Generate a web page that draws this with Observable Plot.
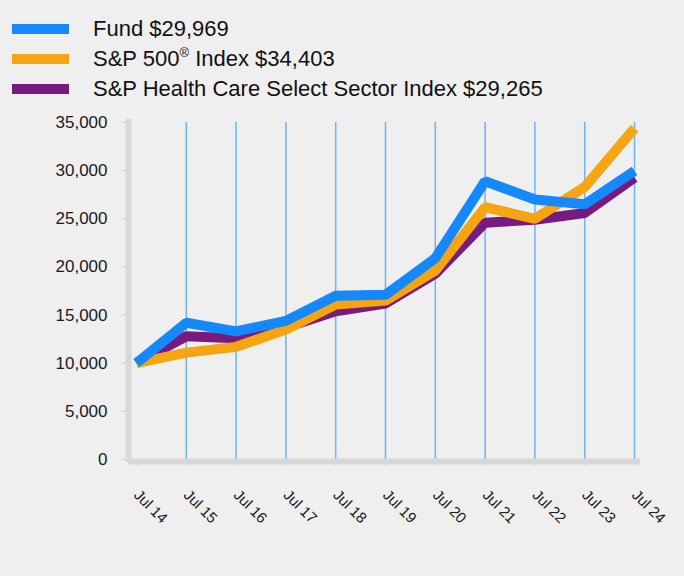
<!DOCTYPE html>
<html>
<head>
<meta charset="utf-8">
<script src="https://cdn.jsdelivr.net/npm/d3@7"></script>
<script src="https://cdn.jsdelivr.net/npm/@observablehq/plot@0.6"></script>
<style>
  html, body { margin: 0; padding: 0; background: #efefef; }
  body { width: 684px; height: 576px; overflow: hidden; font-family: "Liberation Sans", Arial, sans-serif; }
  #legend { height: 112px; box-sizing: border-box; padding-top: 14px; }
  .row { display: flex; align-items: center; height: 30px; }
  .sw { width: 57px; height: 10px; margin-left: 12px; margin-right: 24px; flex: none; }
  .lab { font-size: 22px; color: #111; white-space: nowrap; }
  sup { font-size: 13px; vertical-align: 9px; line-height: 0; }
  svg { display: block; }
</style>
</head>
<body>
<div id="legend"></div>
<div id="chart"></div>
<script>
const years = [2014, 2015, 2016, 2017, 2018, 2019, 2020, 2021, 2022, 2023, 2024];
const tickLabels = ["Jul 14", "Jul 15", "Jul 16", "Jul 17", "Jul 18", "Jul 19", "Jul 20", "Jul 21", "Jul 22", "Jul 23", "Jul 24"];
const fund = [10000, 14200, 13300, 14400, 17000, 17100, 20900, 28900, 27000, 26500, 29969];
const sp500 = [10000, 11100, 11700, 13500, 16100, 16500, 19600, 26200, 25000, 28300, 34403];
const healthCare = [10000, 12800, 12600, 13700, 15400, 16200, 19300, 24600, 24900, 25600, 29265];
const seriesNames = ["Fund $29,969", "S&P 500<sup>®</sup> Index $34,403", "S&P Health Care Select Sector Index $29,265"];
const seriesColors = ["#1589fb", "#f4a511", "#771b80"];
const yTicks = [0, 5000, 10000, 15000, 20000, 25000, 30000, 35000];

const legend = document.getElementById("legend");
seriesNames.forEach((n, i) => {
  const row = document.createElement("div");
  row.className = "row";
  row.innerHTML = `<span class="sw" style="background:${seriesColors[i]}"></span><span class="lab">${n}</span>`;
  legend.appendChild(row);
});

const rows = (vals, key) => years.map((y, i) => ({year: y, value: vals[i], key}));
const data = [...rows(healthCare, "hc"), ...rows(sp500, "sp"), ...rows(fund, "fund")];
const xDomain = [2013.84, 2024.12];

const chart = Plot.plot({
  width: 684,
  height: 464,
  marginTop: 10,
  marginBottom: 117,
  marginLeft: 128,
  marginRight: 44,
  style: {background: "#efefef", fontFamily: "Liberation Sans, Arial, sans-serif", color: "#222"},
  x: {type: "linear", domain: xDomain},
  y: {domain: [0, 35000]},
  marks: [
    Plot.ruleX(years.slice(1), {x: d => d, y1: 0, y2: 35000, stroke: "#6fb2f7", strokeWidth: 1.5}),
    Plot.axisY({ticks: yTicks, tickFormat: d => d3.format(",")(d), tickSize: 7, tickPadding: 14, stroke: "#cfcfcf", fontSize: 17, label: null, fill: "#1a1a1a"}),
    Plot.axisX({ticks: years, tickFormat: d => tickLabels[years.indexOf(d)], tickSize: 7, tickPadding: 26, tickRotate: 45, stroke: "#d6d6d6", fontSize: 15, label: null, fill: "#1a1a1a"}),
    Plot.ruleX([xDomain[0]], {y1: 0, y2: 35000, stroke: "#d8d8d8", strokeWidth: 6, strokeLinecap: "square"}),
    Plot.ruleY([0], {x1: xDomain[0], x2: xDomain[1], stroke: "#d8d8d8", strokeWidth: 6, dy: 2}),
    Plot.line(data, {x: "year", y: "value", z: "key", stroke: d => d.key === "fund" ? seriesColors[0] : d.key === "sp" ? seriesColors[1] : seriesColors[2], strokeWidth: 10, strokeLinejoin: "miter", strokeLinecap: "butt"})
  ]
});
document.getElementById("chart").appendChild(chart);
</script>
</body>
</html>
